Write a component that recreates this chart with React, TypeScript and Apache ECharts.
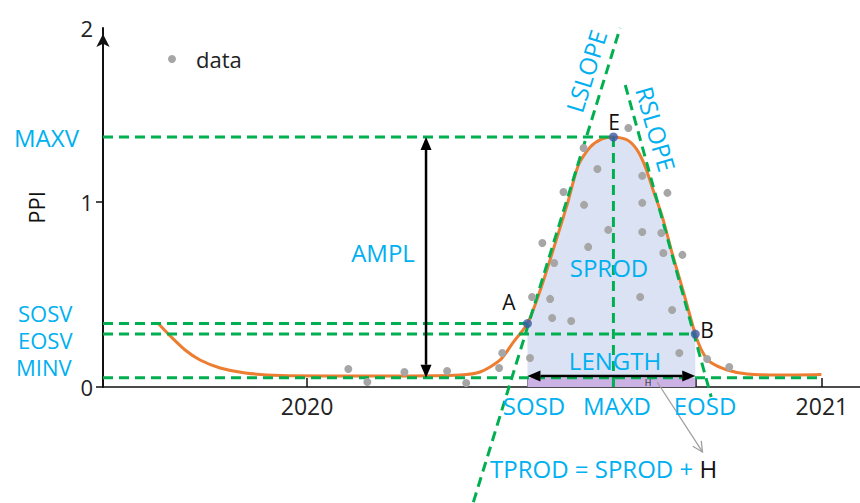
import React, { useEffect, useRef } from 'react';
import * as echarts from 'echarts';

// ---- data (x in decimal years, y in PPI units) ----
const curveYears = [
  2019.710, 2019.734, 2019.763, 2019.792, 2019.831, 2019.880, 2019.948, 2020.045,
  2020.181, 2020.297, 2020.336, 2020.375, 2020.400, 2020.428, 2020.453, 2020.478,
  2020.505, 2020.527, 2020.550, 2020.573, 2020.595, 2020.622, 2020.641, 2020.657,
  2020.672, 2020.690, 2020.709, 2020.731, 2020.754, 2020.768, 2020.783, 2020.816,
  2020.855, 2020.919, 2020.999,
];
const curvePPI = [
  0.346, 0.276, 0.200, 0.146, 0.103, 0.076, 0.062, 0.060,
  0.060, 0.065, 0.081, 0.146, 0.240, 0.343, 0.524, 0.741,
  0.984, 1.200, 1.297, 1.341, 1.351, 1.335, 1.281, 1.189,
  1.065, 0.919, 0.724, 0.514, 0.286, 0.189, 0.135, 0.092,
  0.070, 0.065, 0.068,
];
const dataYears = [
  2020.080, 2020.117, 2020.189, 2020.272, 2020.309, 2020.373, 2020.379, 2020.433,
  2020.437, 2020.472, 2020.476, 2020.513, 2020.457, 2020.480, 2020.498, 2020.538,
  2020.546, 2020.537, 2020.564, 2020.585, 2020.624, 2020.651, 2020.651, 2020.651,
  2020.647, 2020.688, 2020.692, 2020.700, 2020.729, 2020.709, 2020.723, 2020.777,
  2020.820,
];
const dataPPI = [
  0.097, 0.027, 0.081, 0.086, 0.022, 0.103, 0.184, 0.157,
  0.486, 0.476, 0.373, 0.357, 0.778, 0.670, 1.054, 0.984,
  0.757, 1.292, 1.178, 0.849, 1.400, 1.141, 0.995, 0.838,
  0.486, 0.832, 0.724, 1.049, 0.714, 0.416, 0.184, 0.151,
  0.108,
];
const xTickLabels = [2020, 2021];
const yTickValues = [0, 1];
const yTickLabels = ['0', '1', '2'];

// phenology metrics
const SOSD = 2020.428;
const MAXD = 2020.595;
const EOSD = 2020.754;
const MAXV = 1.351;
const SOSV = 0.343;
const EOSV = 0.286;
const MINV = 0.05;
const END_YEAR = 2020.991;
const LSLOPE_LINE = [[2020.323, -0.622], [2020.608, 1.94]];
const RSLOPE_LINE = [[2020.618, 1.632], [2020.785, -0.054]];
const AMPL_YEAR = 2020.231;
const LENGTH_PPI = 0.06;
const H_POINTER = [2020.680, 0.027, 2020.768, -0.351];

// axes extent
const X_MIN = 2019.6035;
const X_MAX = 2021.074;
const Y_MAX = 1.94;

const FONT = '"Open Sans", "Liberation Sans", sans-serif';
const BLUE = '#00b0f0';
const GREEN = '#00b050';
const ORANGE = '#ed7d31';
const GRAY = '#a6a6a6';

const dashed = (name: string, data: number[][], clip = true) => ({
  type: 'line',
  name,
  data,
  symbol: 'none',
  silent: true,
  clip,
  z: 4,
  lineStyle: { color: GREEN, width: 3, type: [10, 6] },
});

function head(tip: number[], from: number[], len: number, half: number) {
  const dx = tip[0] - from[0];
  const dy = tip[1] - from[1];
  const d = Math.hypot(dx, dy) || 1;
  const ux = dx / d;
  const uy = dy / d;
  const bx = tip[0] - ux * len;
  const by = tip[1] - uy * len;
  return {
    base: [bx, by],
    pts: [
      [bx - uy * half, by + ux * half],
      [tip[0], tip[1]],
      [bx + uy * half, by - ux * half],
    ],
  };
}

const txt = (
  text: string,
  x: number,
  y: number,
  opts: { fill?: string; size?: number; align?: string; rotation?: number } = {}
) => ({
  type: 'text',
  x,
  y,
  rotation: opts.rotation || 0,
  silent: true,
  z: 10,
  style: {
    text,
    fill: opts.fill || BLUE,
    font: `${opts.size || 24}px ${FONT}`,
    lineHeight: Math.round((opts.size || 24) * 0.95),
    align: opts.align || 'center',
    textAlign: opts.align || 'center',
    verticalAlign: 'middle',
    textVerticalAlign: 'middle',
  },
});

export default function App() {
  const ref = useRef<HTMLDivElement>(null);

  useEffect(() => {
    if (!ref.current) return;
    const chart = echarts.init(ref.current, null, { renderer: 'svg' });

    const curve = curveYears.map((t, i) => [t, curvePPI[i]]);
    const seasonCurve = curve.filter(([t]) => t >= SOSD - 1e-9 && t <= EOSD + 1e-9);
    const points = dataYears.map((t, i) => [t, dataPPI[i]]);

    const option: any = {
      animation: false,
      textStyle: { fontFamily: FONT },
      grid: { left: 103, right: 0, top: 28, bottom: 116, containLabel: false },
      legend: {
        data: ['data'],
        left: 163,
        top: 43,
        icon: 'circle',
        itemWidth: 38,
        itemHeight: 8,
        symbolKeepAspect: true,
        selectedMode: false,
        textStyle: { fontSize: 22, color: '#222', fontFamily: FONT },
      },
      xAxis: {
        type: 'value',
        min: X_MIN,
        max: X_MAX,
        splitLine: { show: false },
        axisLine: { onZero: false, lineStyle: { color: '#111', width: 1.5 } },
        axisTick: {
          show: true,
          inside: true,
          length: 9,
          customValues: [xTickLabels[0], SOSD, MAXD, EOSD, xTickLabels[1]],
          lineStyle: { color: '#111', width: 1.5 },
        },
        axisLabel: {
          customValues: xTickLabels,
          formatter: (v: number) => String(Math.round(v)),
          fontSize: 23,
          color: '#222',
          margin: 7,
          fontFamily: FONT,
        },
      },
      yAxis: {
        type: 'value',
        min: 0,
        max: Y_MAX,
        name: 'PPI',
        nameLocation: 'middle',
        nameGap: 56,
        nameTextStyle: { fontSize: 22, color: '#111', fontFamily: FONT },
        splitLine: { show: false },
        axisLine: {
          show: true,
          symbol: ['none', 'arrow'],
          symbolSize: [10, 13],
          symbolOffset: [0, -6],
          lineStyle: { color: '#111', width: 2 },
        },
        axisTick: {
          show: true,
          length: 7,
          customValues: yTickValues,
          lineStyle: { color: '#111', width: 1.5 },
        },
        axisLabel: {
          customValues: [0, 1, Y_MAX],
          formatter: (v: number) => (v > 1.5 ? yTickLabels[2] : v > 0.5 ? yTickLabels[1] : yTickLabels[0]),
          fontSize: 22,
          color: '#222',
          margin: 10,
          fontFamily: FONT,
        },
      },
      series: [
        {
          type: 'line',
          name: 'SPROD',
          data: seasonCurve,
          smooth: 0.25,
          symbol: 'none',
          silent: true,
          z: 1,
          lineStyle: { width: 0, opacity: 0 },
          areaStyle: { color: '#dbe2f3', opacity: 1, origin: MINV },
        },
        {
          type: 'line',
          name: 'H',
          data: [[SOSD, MINV], [EOSD, MINV]],
          symbol: 'none',
          silent: true,
          z: 1,
          lineStyle: { width: 0, opacity: 0 },
          areaStyle: { color: '#cbb1e4', opacity: 1 },
        },
        {
          type: 'line',
          name: 'curve',
          data: curve,
          smooth: 0.25,
          symbol: 'none',
          silent: true,
          z: 3,
          lineStyle: { color: ORANGE, width: 3 },
        },
        dashed('MAXV', [[X_MIN, MAXV], [MAXD, MAXV]]),
        dashed('SOSV', [[X_MIN, SOSV], [SOSD, SOSV]]),
        dashed('EOSV', [[X_MIN, EOSV], [EOSD, EOSV]]),
        dashed('MINV', [[X_MIN, MINV], [END_YEAR, MINV]]),
        dashed('MAXD', [[MAXD, MAXV], [MAXD, 0]]),
        dashed('LSLOPE', LSLOPE_LINE, false),
        dashed('RSLOPE', RSLOPE_LINE, false),
        {
          type: 'scatter',
          name: 'data',
          data: points,
          symbolSize: 8,
          silent: true,
          z: 5,
          itemStyle: { color: GRAY, opacity: 1 },
        },
        {
          type: 'custom',
          name: 'arrows',
          coordinateSystem: 'cartesian2d',
          clip: false,
          silent: true,
          z: 6,
          data: [
            [AMPL_YEAR, MAXV, AMPL_YEAR, MINV],
            [SOSD, LENGTH_PPI, EOSD, LENGTH_PPI],
          ],
          encode: { x: [0, 2], y: [1, 3] },
          renderItem: (_p: any, api: any) => {
            const p1 = api.coord([api.value(0), api.value(1)]);
            const p2 = api.coord([api.value(2), api.value(3)]);
            const h1 = head(p1, p2, 13, 5.5);
            const h2 = head(p2, p1, 13, 5.5);
            return {
              type: 'group',
              children: [
                {
                  type: 'line',
                  shape: { x1: h1.base[0], y1: h1.base[1], x2: h2.base[0], y2: h2.base[1] },
                  style: { stroke: '#000', lineWidth: 2.5 },
                },
                { type: 'polygon', shape: { points: h1.pts }, style: { fill: '#000' } },
                { type: 'polygon', shape: { points: h2.pts }, style: { fill: '#000' } },
              ],
            };
          },
        },
        {
          type: 'custom',
          name: 'pointer',
          coordinateSystem: 'cartesian2d',
          clip: false,
          silent: true,
          z: 6,
          data: [H_POINTER],
          encode: { x: [0, 2], y: [1, 3] },
          renderItem: (_p: any, api: any) => {
            const p1 = api.coord([api.value(0), api.value(1)]);
            const p2 = api.coord([api.value(2), api.value(3)]);
            const h = head(p2, p1, 10, 5);
            return {
              type: 'group',
              children: [
                {
                  type: 'line',
                  shape: { x1: p1[0], y1: p1[1], x2: p2[0], y2: p2[1] },
                  style: { stroke: '#a0a0a0', lineWidth: 1.3 },
                },
                {
                  type: 'polyline',
                  shape: { points: h.pts },
                  style: { stroke: '#a0a0a0', lineWidth: 1.3, fill: null },
                },
              ],
            };
          },
        },
        {
          type: 'scatter',
          name: 'key points',
          data: [[SOSD, SOSV], [MAXD, MAXV], [EOSD, EOSV]],
          symbolSize: 9,
          silent: true,
          z: 7,
          itemStyle: { color: '#3a5ba8' },
        },
      ],
      graphic: [
        txt('MAXV', 14, 137, { align: 'left' }),
        txt('SOSV', 18, 313, { align: 'left', size: 22 }),
        txt('EOSV', 18, 340, { align: 'left', size: 22 }),
        txt('MINV', 16, 367, { align: 'left', size: 22 }),
        txt('AMPL', 383, 252),
        txt('SPROD', 609, 267),
        txt('LENGTH', 615, 360),
        txt('SOSD', 534, 405),
        txt('MAXD', 617, 405),
        txt('EOSD', 705, 405),
        txt('LSLOPE', 586, 71, { rotation: (72.8 * Math.PI) / 180 }),
        txt('RSLOPE', 656, 129, { rotation: (-74 * Math.PI) / 180 }),
        txt('A', 509, 302, { fill: '#111', size: 21 }),
        txt('B', 707, 330, { fill: '#111', size: 21 }),
        txt('E', 614, 122, { fill: '#111', size: 21 }),
        txt('H', 648, 382, { fill: '#222', size: 9 }),
        {
          type: 'text',
          x: 490,
          y: 468,
          silent: true,
          z: 10,
          style: {
            text: '{b|TPROD = SPROD + }{k|H}',
            font: `24px ${FONT}`,
            align: 'left',
            textAlign: 'left',
            verticalAlign: 'middle',
            textVerticalAlign: 'middle',
            rich: {
              b: { fill: BLUE, fontSize: 24, fontFamily: FONT },
              k: { fill: '#111', fontSize: 24, fontFamily: FONT },
            },
          },
        },
      ],
    };

    chart.setOption(option);
    return () => chart.dispose();
  }, []);

  return (
    <div
      ref={ref}
      style={{ position: 'fixed', left: 0, top: 0, width: 860, height: 503, background: '#fff' }}
    />
  );
}
